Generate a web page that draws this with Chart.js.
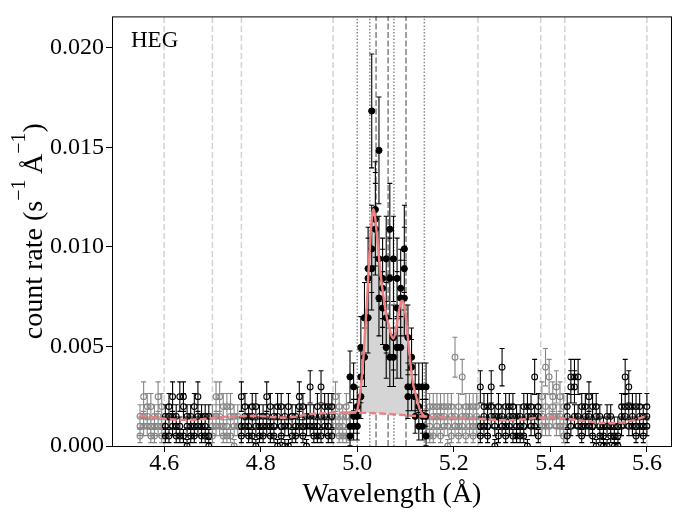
<!DOCTYPE html>
<html><head><meta charset="utf-8">
<script src="https://cdn.jsdelivr.net/npm/chart.js@4.4.1/dist/chart.umd.min.js"></script>
<style>html,body{margin:0;padding:0;background:#fff;}#wrap{width:682px;height:516px;position:relative;}</style>
</head><body><div id="wrap"><canvas id="c"></canvas></div>
<script>
// ---- data ----
const wavelength = [4.5500,4.5575,4.5650,4.5725,4.5800,4.5875,4.5950,4.6025,4.6100,4.6175,4.6250,4.6325,4.6400,4.6475,4.6550,4.6625,4.6700,4.6775,4.6850,4.6925,4.7000,4.7075,4.7150,4.7225,4.7300,4.7375,4.7450,4.7525,4.7600,4.7675,4.7750,4.7825,4.7900,4.7975,4.8050,4.8125,4.8200,4.8275,4.8350,4.8425,4.8500,4.8575,4.8650,4.8725,4.8800,4.8875,4.8950,4.9025,4.9100,4.9175,4.9250,4.9325,4.9400,4.9475,4.9550,4.9625,4.9700,4.9775,4.9850,4.9925,5.0000,5.0075,5.0150,5.0225,5.0300,5.0375,5.0450,5.0525,5.0600,5.0675,5.0750,5.0825,5.0900,5.0975,5.1050,5.1125,5.1200,5.1275,5.1350,5.1425,5.1500,5.1575,5.1650,5.1725,5.1800,5.1875,5.1950,5.2025,5.2100,5.2175,5.2250,5.2325,5.2400,5.2475,5.2550,5.2625,5.2700,5.2775,5.2850,5.2925,5.3000,5.3075,5.3150,5.3225,5.3300,5.3375,5.3450,5.3525,5.3600,5.3675,5.3750,5.3825,5.3900,5.3975,5.4050,5.4125,5.4200,5.4275,5.4350,5.4425,5.4500,5.4575,5.4650,5.4725,5.4800,5.4875,5.4950,5.5025,5.5100,5.5175,5.5250,5.5325,5.5400,5.5475,5.5550,5.5625,5.5700,5.5775,5.5850,5.5925,5.6000];

const rateObsA = [
0.00149,0.00248,0.00099,0.00198,0.0005,0.00149,0.00099,
0.00099,0.00149,0.00248,0.00149,0.00099,0.00198,0.00149,0.0005,0.00099,0.00248,0.00099,0.00149,0.0005,
0.00099,0.00248,0.00149,0.0005,0.00099,0.00198,0.00149,0.00099,
0.00248,0.00099,0.00149,0.0005,0.00198,0.00099,0.00149,0.00248,0.00099,0.0005,0.00149,0.00198,0.00099,0,0.00149,0.00099,0.00248,0.0005,0.00149,0.00297,0.00099,0.00198,0.0005,0.00149,0.00099,0.00198,
0.00248,0.00099,0.00149,0.0005,
0.00099,0.00297,0.00149,0.00495,0.00644,0.00842,0.01683,0.01188,0.01485,0.00792,0.00495,0.01089,0.0094,0.00693,0.00792,0.0099,0.00297,0.00396,0.00297,0.00198,0.00149,0.00297,
0.00099,0.00198,0.00149,0.0005,0.00198,0.00099,0.00149,0.00446,0.00198,0.00099,0.00149,0.00198,0.0005,0.00149,
0.00297,0.00099,0.00198,0.00297,0.00149,0.0005,0.00396,0.00099,0.00198,0.00149,0.0005,0.00099,0.00198,0.00149,0.00099,0.00347,0.00198,
0.00149,0.00396,0.00099,0.00198,0.00297,0.00149,0.00099,
0.00198,0.00347,0.00347,0.00149,0.00099,0.00198,0.00248,0.00099,0.00149,0.0005,0.00099,0,0.00149,0.00099,0.0005,0.00198,0.00347,0.00099,0.00149,0.00198,0.00099,0.00149,0.00198];

const rateObsB = [
0.00099,0.00149,0.00198,0.00099,0.00149,0.00248,0.0005,
0.0005,0.00198,0.00099,0.00099,0.00248,0.0005,0.00099,0.00149,0.00198,0.00099,0.00149,0.0005,0,
0.00149,0.00099,0.00248,0.00099,0.00198,0.0005,0.00099,0.00149,
0.00099,0.00198,0.0005,0.00149,0.00099,0.00149,0.0005,0.00099,0.00198,0.00149,0,0.00099,0.00149,0.00198,0.0005,0.00149,0.00099,0.00198,0.00099,0.00149,0.0005,0.00099,0.00297,0.00099,0.00198,0.0005,
0.00099,0.00198,0.0005,0.00149,
0.00347,0.00149,0.00099,0.00248,0.00446,0.00644,0.0099,0.01139,0.0094,0.00842,0.00644,0.00446,0.00446,0.00842,0.00495,0.00891,0.00545,0.00297,0.00248,0.00297,0.00099,0.00149,
0.00198,0.0005,0.00198,0.00149,0.00099,0.00198,0.0005,0.00149,0.00099,0.00347,0.00198,0.00099,0.00198,0.00099,
0.00099,0.00198,0.0005,0.00149,0.00099,0.00198,0.00149,0.0005,0.00099,0.00198,0.00099,0.00149,0.0005,0.00198,0.00149,0.00099,0.00149,
0.00248,0.00099,0.00347,0.00149,0.00099,0.00248,0.00198,
0.0005,0.00297,0.00149,0.00347,0.00198,0.00099,0.00149,0.0005,0.00198,0.00099,0,0.00149,0.0005,0,0.00099,0.00149,0.00198,0.00297,0.00099,0.0005,0.00198,0.00099,0.00149];

const rateObsC = [
0.0005,0.00099,0.00149,0.0005,0.00099,0.00099,0.00198,
0.00149,0.0005,0.00149,0.0005,0.0005,0.00248,0,0.00099,0.0005,0.00149,0.0005,0.00099,0.00149,
0.0005,0.00149,0.00099,0.00198,0.0005,0.00149,0,0.00099,
0.0005,0.00149,0.00099,0.00198,0,0.0005,0.00099,0.00149,0.0005,0.00099,0.00198,0.0005,0,0.00099,0.00149,0.0005,0.00198,0.00099,0,0.00099,0.00149,0.0005,0.00149,0.00198,0.0005,0.00149,
0.00149,0.0005,0.00099,0.00198,
0.0005,0.00099,0.00198,0.00347,0.00644,0.00891,0.00891,0.01089,0.00743,0.00693,0.0094,0.00842,0.00545,0.00495,0.00743,0.00743,0.00248,0.00446,0.00149,0.00099,0.00297,0.0005,
0.0005,0.00149,0.00099,0.00198,0.00149,0,0.00198,0.00099,0.0005,0.00149,0.0005,0.00149,0.00099,0.00198,
0.0005,0.00149,0.00099,0.00198,0,0.00149,0.00099,0.00198,0.00149,0.0005,0.00149,0.0005,0.00099,0,0.00198,0.00149,0.0005,
0.00099,0.00198,0.00149,0.00248,0.00149,0.00099,0.0005,
0.00149,0.00099,0.00297,0.00099,0.0005,0.00149,0.00099,0.00198,0,0.00149,0.0005,0.00099,0.00099,0.0005,0,0.00099,0.00149,0.00198,0.00198,0.00099,0.00149,0.0005,0.00099];

// one-sigma error, by count level (level step 0.000495)
const levelStep = 0.000495;
const openErrByLevel = [0.00033,0.00033,0.00047,0.00058,0.00066,0.00074,0.00081,0.00088,0.00094,0.001,0.00105];
const lineErrByLevel = [0.00049,0.00049,0.00069,0.00085,0.00098,0.0011,0.0012,0.0013,0.00139,0.00147,0.00155,0.00163,0.0017,0.00177,0.00183,0.0019,0.00196,0.00202,0.00208,0.00214,0.00219,0.00225,0.0023,0.00235,0.0024,0.00245,0.0025,0.00255,0.00259,0.00264,0.00268,0.00273,0.00277,0.00281,0.00286];

// continuum model (dashed) and line model (solid)
const continuumX = [4.55,4.575,4.60,4.625,4.65,4.675,4.70,4.725,4.75,4.775,4.80,4.825,4.85,4.875,4.90,4.925,4.95,4.975,5.00,5.025,5.05,5.075,5.10,5.125,5.15,5.175,5.20,5.225,5.25,5.275,5.30,5.325,5.35,5.375,5.40,5.425,5.45,5.475,5.50,5.525,5.55,5.575,5.60];
const continuumY = [0.00153,0.00145,0.00137,0.00132,0.00131,0.00134,0.00141,0.00146,0.00148,0.00151,0.0015,0.00145,0.00142,0.00148,0.0016,0.00164,0.00167,0.00168,0.00168,0.00166,0.00163,0.00159,0.00155,0.0015,0.00146,0.00144,0.00142,0.0014,0.00137,0.00133,0.00129,0.0013,0.00135,0.00142,0.00145,0.0014,0.00132,0.00124,0.00117,0.00114,0.00118,0.0013,0.00152];
const modelX = [4.975,4.985,4.995,5.000,5.005,5.010,5.015,5.020,5.025,5.030,5.033,5.036,5.040,5.045,5.050,5.055,5.060,5.065,5.070,5.075,5.080,5.085,5.090,5.093,5.096,5.100,5.105,5.110,5.115,5.120,5.125,5.130,5.135,5.140,5.145];
const modelY = [0.00168,0.00168,0.0017,0.0018,0.0025,0.0036,0.0052,0.0072,0.0095,0.0114,0.0119,0.0117,0.0108,0.0095,0.0083,0.0074,0.0066,0.0061,0.0056,0.0054,0.0058,0.0066,0.0072,0.0073,0.0072,0.0066,0.0054,0.0042,0.0032,0.0027,0.0022,0.0018,0.0016,0.0015,0.00148];

const xTicks = [4.6,4.8,5.0,5.2,5.4,5.6];
const yTicks = [0,0.005,0.010,0.015,0.020];
const xRange = [4.492,5.652];
const yRange = [0,0.02158];
const fitRanges = [[4.60,4.70],[4.76,4.95],[5.25,5.38],[5.43,5.61]];
const lineRange = [4.98,5.145];
const regionLines = [4.60,4.70,4.76,4.95,5.25,5.38,5.43,5.60];
const velocityLines = [5.000,5.026,5.076,5.139];
const restLines = [5.039,5.064,5.101];
const panelLabel = 'HEG';

// ---- build point sets ----
function classify(x){
  if (x >= lineRange[0] && x <= lineRange[1]) return 'line';
  for (const r of fitRanges) if (x >= r[0] && x < r[1]) return 'fit';
  return 'excl';
}
const pts = {excl:[], fit:[], line:[]};
[rateObsA, rateObsB, rateObsC].forEach(series => {
  series.forEach((y, i) => {
    const x = wavelength[i];
    const c = classify(x);
    const lvl = Math.round(y / levelStep);
    const tbl = c === 'line' ? lineErrByLevel : openErrByLevel;
    pts[c].push({x: x, y: y, err: tbl[Math.min(lvl, tbl.length - 1)]});
  });
});

const SERIF = "'Liberation Serif', 'Times New Roman', serif";
const GRAY = '#858585';
const RED = '#ef8080';

const errorBars = {
  id: 'errorBars',
  beforeDatasetDraw(chart, args) {
    const ds = chart.data.datasets[args.index];
    if (!ds.errColor) return;
    const ctx = chart.ctx, xs = chart.scales.x, ys = chart.scales.y, a = chart.chartArea;
    ctx.save();
    ctx.beginPath(); ctx.rect(a.left, a.top, a.right - a.left, a.bottom - a.top); ctx.clip();
    ctx.strokeStyle = ds.errColor; ctx.lineWidth = 1.1;
    ctx.beginPath();
    ds.data.forEach(p => {
      const px = xs.getPixelForValue(p.x);
      const yt = ys.getPixelForValue(p.y + p.err), yb = ys.getPixelForValue(p.y - p.err);
      ctx.moveTo(px, yb); ctx.lineTo(px, yt);
      ctx.moveTo(px - 2.5, yt); ctx.lineTo(px + 2.5, yt);
      ctx.moveTo(px - 2.5, yb); ctx.lineTo(px + 2.5, yb);
    });
    ctx.stroke();
    ctx.restore();
  }
};

const decorations = {
  id: 'decorations',
  beforeDatasetsDraw(chart) {
    const ctx = chart.ctx, xs = chart.scales.x, a = chart.chartArea;
    const vline = (x, color, dash, w) => {
      const px = xs.getPixelForValue(x);
      ctx.save(); ctx.strokeStyle = color; ctx.lineWidth = w; ctx.setLineDash(dash);
      ctx.beginPath(); ctx.moveTo(px, a.bottom); ctx.lineTo(px, a.top); ctx.stroke(); ctx.restore();
    };
    regionLines.forEach(x => vline(x, '#d2d2d2', [6, 3], 1.5));
    velocityLines.forEach(x => vline(x, '#8a8a8a', [1.5, 1.8], 1.5));
    restLines.forEach(x => vline(x, '#8a8a8a', [6, 2.5], 1.6));
  },
  afterDraw(chart) {
    const ctx = chart.ctx, a = chart.chartArea;
    ctx.save();
    ctx.strokeStyle = '#000'; ctx.lineWidth = 1;
    ctx.strokeRect(a.left + 0.5, a.top + 0.5, a.right - a.left - 1, a.bottom - a.top);
    ctx.fillStyle = '#000';
    // panel label
    ctx.font = '23px ' + SERIF; ctx.textAlign = 'left'; ctx.textBaseline = 'alphabetic';
    ctx.fillText(panelLabel, 131, 47);
    // x title
    ctx.font = '28px ' + SERIF; ctx.textAlign = 'center';
    ctx.fillText('Wavelength (Å)', (a.left + a.right) / 2, 502);
    // y title with superscripts
    const big = '28px ' + SERIF, small = '20px ' + SERIF;
    const parts = [['count rate (s', big, 0], ['\u22121', small, 17], ['\u2009Å', big, 0], ['\u22121', small, 17], [')', big, 0]];
    let total = 0;
    parts.forEach(p => { ctx.font = p[1]; p.push(ctx.measureText(p[0]).width); total += p[3]; });
    ctx.translate(42, (a.top + a.bottom) / 2);
    ctx.rotate(-Math.PI / 2);
    ctx.textAlign = 'left';
    let cx = -total / 2;
    parts.forEach(p => { ctx.font = p[1]; ctx.fillText(p[0], cx, -p[2]); cx += p[3]; });
    ctx.restore();
  }
};

const chart = new Chart(document.getElementById('c'), {
  type: 'scatter',
  data: {
    datasets: [
      { label: 'fill', type: 'line', data: modelX.map((x, i) => ({x: x, y: modelY[i]})), borderWidth: 0, pointRadius: 0,
        backgroundColor: '#d5d5d5', fill: 5, order: 20, cubicInterpolationMode: 'monotone' },
      { label: 'excluded', data: pts.excl, errColor: GRAY, pointStyle: 'circle', pointRadius: 2.9, borderWidth: 1.1,
        borderColor: GRAY, backgroundColor: 'rgba(0,0,0,0)', order: 12 },
      { label: 'fit', data: pts.fit, errColor: '#000', pointStyle: 'circle', pointRadius: 2.9, borderWidth: 1.1,
        borderColor: '#000', backgroundColor: 'rgba(0,0,0,0)', order: 11 },
      { label: 'line', data: pts.line, errColor: '#000', pointStyle: 'circle', pointRadius: 3.1, borderWidth: 1,
        borderColor: '#000', backgroundColor: '#000', order: 10 },
      { label: 'model', type: 'line', data: modelX.map((x, i) => ({x: x, y: modelY[i]})), borderColor: RED, borderWidth: 2.4,
        pointRadius: 0, fill: false, order: 1, cubicInterpolationMode: 'monotone' },
      { label: 'continuum', type: 'line', data: continuumX.map((x, i) => ({x: x, y: continuumY[i]})), borderColor: RED, borderWidth: 2.4,
        borderDash: [7, 3], pointRadius: 0, fill: false, order: 2, tension: 0 }
    ]
  },
  options: {
    responsive: true, maintainAspectRatio: false, animation: false, events: [],
    layout: { padding: { top: 10, right: 10, left: 0, bottom: 0 } },
    plugins: { legend: { display: false }, tooltip: { enabled: false }, filler: { propagate: false } },
    scales: {
      x: {
        type: 'linear', min: xRange[0], max: xRange[1],
        afterBuildTicks: s => { s.ticks = xTicks.map(v => ({value: v})); },
        afterFit: s => { s.height = 70; },
        ticks: { autoSkip: false, maxRotation: 0, font: { family: SERIF, size: 24, lineHeight: 0.95 }, color: '#000', padding: 0,
          callback: v => Number(v).toFixed(1) },
        grid: { display: true, drawOnChartArea: false, drawTicks: true, tickLength: 6, tickColor: '#000', tickWidth: 1 },
        border: { display: false },
        title: { display: false }
      },
      y: {
        type: 'linear', min: yRange[0], max: yRange[1],
        afterBuildTicks: s => { s.ticks = yTicks.map(v => ({value: v})); },
        afterFit: s => { s.width = 112; },
        ticks: { autoSkip: false, font: { family: SERIF, size: 24 }, color: '#000', padding: 2,
          callback: v => Number(v).toFixed(3) },
        grid: { display: true, drawOnChartArea: false, drawTicks: true, tickLength: 6, tickColor: '#000', tickWidth: 1 },
        border: { display: false },
        title: { display: false }
      }
    }
  },
  plugins: [errorBars, decorations]
});
</script></body></html>
